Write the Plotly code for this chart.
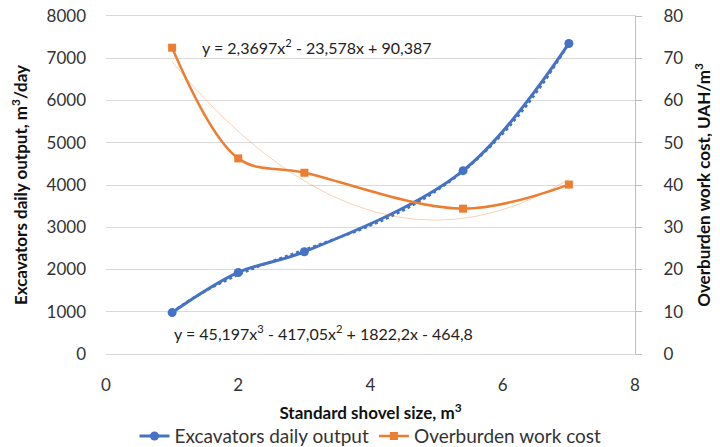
import numpy as np
import plotly.graph_objects as go

shovel_size = [1, 2, 3, 5.4, 7]
daily_output = [980, 1930, 2420, 4340, 7350]
work_cost = [72.5, 46.3, 42.9, 34.4, 40.1]

eq_output = "y = 45,197x<sup>3</sup> - 417,05x<sup>2</sup> + 1822,2x - 464,8"
eq_cost = "y = 2,3697x<sup>2</sup> - 23,578x + 90,387"

BLUE = "#4472C4"
ORANGE = "#ED7D31"
GRID = "#D9D9D9"
FONT = "Lato, Carlito, 'Open Sans', sans-serif"

xs = np.linspace(min(shovel_size), max(shovel_size), 200)
fit_out = np.polyval(np.polyfit(shovel_size, daily_output, 3), xs)
fit_cost = np.polyval(np.polyfit(shovel_size, work_cost, 2), xs)

fig = go.Figure()
fig.add_trace(go.Scatter(x=xs, y=fit_cost, mode="lines", yaxis="y2",
                         line=dict(color="rgba(237,125,49,0.35)", width=1),
                         showlegend=False, hoverinfo="skip"))
fig.add_trace(go.Scatter(x=xs, y=fit_out, mode="lines",
                         line=dict(color=BLUE, width=2.5, dash="dot"),
                         showlegend=False, hoverinfo="skip"))
fig.add_trace(go.Scatter(x=shovel_size, y=daily_output, mode="lines+markers",
                         name="Excavators daily output",
                         line=dict(color=BLUE, width=3, shape="spline", smoothing=1),
                         marker=dict(symbol="circle", size=9, color=BLUE)))
fig.add_trace(go.Scatter(x=shovel_size, y=work_cost, mode="lines+markers", yaxis="y2",
                         name="Overburden work cost",
                         line=dict(color=ORANGE, width=2.5, shape="spline", smoothing=1),
                         marker=dict(symbol="square", size=8, color=ORANGE)))

fig.add_annotation(x=1.42, y=72.8, yref="y2", text=eq_cost, showarrow=False,
                   xanchor="left", yanchor="middle",
                   font=dict(family=FONT, size=16, color="#222"))
fig.add_annotation(x=1.0, y=500, text=eq_output, showarrow=False,
                   xanchor="left", yanchor="middle",
                   font=dict(family=FONT, size=16, color="#222"))

TITLE_FONT = dict(family=FONT, size=17, color="#111")
fig.update_layout(
    width=712, height=439,
    margin=dict(l=98, r=85, t=8, b=93, autoexpand=False),
    paper_bgcolor="white", plot_bgcolor="white",
    font=dict(family=FONT, size=17, color="#333"),
    xaxis=dict(range=[0, 8], dtick=2, showgrid=False, zeroline=False,
               showline=True, mirror=True, linecolor=GRID, linewidth=1,
               ticks="", automargin=False, ticklabelstandoff=16,
               title=dict(text="<b>Standard shovel size, m<sup>3</sup></b>",
                          font=TITLE_FONT, standoff=12)),
    yaxis=dict(range=[0, 8000], dtick=1000, showgrid=True, gridcolor=GRID,
               gridwidth=1, zeroline=False, showline=False, ticks="",
               automargin=False, ticklabelstandoff=19, ticklabeloverflow="allow",
               title=dict(text="<b>Excavators daily output, m<sup>3</sup>/day</b>",
                          font=TITLE_FONT, standoff=16)),
    yaxis2=dict(range=[0, 80], dtick=10, overlaying="y", side="right",
                showgrid=False, zeroline=False, showline=True, linecolor="#BFBFBF",
                ticks="outside", ticklen=6, tickcolor="#BFBFBF", automargin=False,
                ticklabelstandoff=18, ticklabeloverflow="allow",
                title=dict(text="<b>Overburden work cost, UAH/m<sup>3</sup></b>",
                           font=TITLE_FONT, standoff=15)),
    legend=dict(orientation="h", x=0.5, xanchor="center", y=-0.243, yanchor="middle",
                font=dict(size=19), tracegroupgap=0, itemwidth=30),
)

fig.write_html("out.html")
